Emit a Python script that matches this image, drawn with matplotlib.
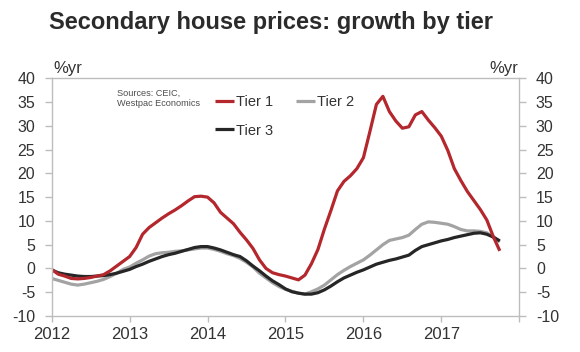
# -*- coding: utf-8 -*-

import numpy as np
import pandas as pd
import matplotlib
matplotlib.use("Agg")
import matplotlib.pyplot as plt

# =========================
# 数据 (月度, 2012-01 ~ 2017-10, %yr)
START = "2012-01"

tier1 = [
    # 2012
    -0.2, -1.2, -1.6, -2.1, -2.2, -2.1, -1.9, -1.6, -1.3, -0.5, 0.5, 1.5,
    # 2013
    2.5, 4.4, 7.2, 8.6, 9.6, 10.6, 11.5, 12.3, 13.2, 14.2, 15.1, 15.2,
    # 2014
    15.0, 13.8, 11.8, 10.6, 9.4, 7.6, 6.0, 4.2, 1.8, 0.0, -0.9, -1.3,
    # 2015
    -1.6, -2.0, -2.4, -1.4, 1.0, 4.0, 8.3, 12.2, 16.3, 18.3, 19.5, 21.0,
    # 2016
    23.3, 28.8, 34.5, 36.2, 33.0, 31.0, 29.5, 29.8, 32.3, 33.0, 31.2, 29.6,
    # 2017
    27.8, 24.8, 21.0, 18.5, 16.2, 14.3, 12.4, 10.2, 6.7, 3.7,
]

tier2 = [
    -2.1, -2.5, -2.9, -3.3, -3.5, -3.3, -3.0, -2.7, -2.3, -1.7, -1.0, -0.2,
    0.3, 1.1, 1.8, 2.6, 3.1, 3.3, 3.4, 3.6, 3.7, 3.9, 4.1, 4.3,
    4.3, 4.0, 3.6, 3.1, 2.7, 2.1, 1.3, 0.3, -1.0, -2.0, -3.0, -3.8,
    -4.4, -4.8, -5.2, -5.4, -4.9, -4.3, -3.5, -2.4, -1.3, -0.4, 0.4, 1.1,
    1.8, 2.8, 3.9, 5.0, 5.9, 6.2, 6.5, 7.0, 8.2, 9.3, 9.8, 9.7,
    9.5, 9.3, 8.8, 8.2, 7.9, 7.9, 7.8, 7.5, 6.6, 5.6,
]

tier3 = [
    -0.3, -0.9, -1.2, -1.4, -1.6, -1.7, -1.7, -1.6, -1.5, -1.3, -1.0, -0.6,
    -0.2, 0.4, 0.9, 1.5, 2.0, 2.5, 2.9, 3.2, 3.6, 4.0, 4.4, 4.6,
    4.6, 4.3, 3.9, 3.4, 2.9, 2.5, 1.6, 0.5, -0.5, -1.6, -2.6, -3.4,
    -4.3, -4.9, -5.2, -5.4, -5.4, -5.1, -4.5, -3.7, -2.8, -2.0, -1.4, -0.8,
    -0.3, 0.3, 0.9, 1.3, 1.7, 2.0, 2.4, 2.8, 3.8, 4.6, 5.0, 5.4,
    5.8, 6.1, 6.5, 6.8, 7.1, 7.4, 7.5, 7.2, 6.6, 5.8,
]

year_ticks = [2012, 2013, 2014, 2015, 2016, 2017, 2018]
year_labels = ["2012", "2013", "2014", "2015", "2016", "2017", ""]
y_ticks = [-10, -5, 0, 5, 10, 15, 20, 25, 30, 35, 40]

TITLE = "Secondary house prices: growth by tier"
SOURCE = "Sources: CEIC,\nWestpac Economics"

# =========================
# 样式
RED = "#b3272d"
GREY = "#a3a3a3"
BLACK = "#262626"
AXIS = "#bdbdbd"
TXT = "#333333"

plt.rcParams["font.family"] = ["Liberation Sans", "DejaVu Sans"]
plt.rcParams["axes.unicode_minus"] = False


def decimal_years(n):
    dates = pd.date_range(START, periods=n, freq="MS")
    return dates.year + (dates.month - 1) / 12.0


def main():
    fig = plt.figure(figsize=(5.8, 3.52), dpi=100)
    ax = fig.add_axes([0.0891, 0.1023, 0.8062, 0.6753])

    x = decimal_years(len(tier1))
    l2, = ax.plot(x, tier2, color=GREY, lw=2.3, label="Tier 2", solid_capstyle="butt")
    l3, = ax.plot(x, tier3, color=BLACK, lw=2.3, label="Tier 3", solid_capstyle="butt")
    l1, = ax.plot(x, tier1, color=RED, lw=2.3, label="Tier 1", solid_capstyle="butt")

    ax.set_xlim(2012, 2018)
    ax.set_ylim(-10, 40)
    ax.set_xticks(year_ticks)
    ax.set_xticklabels(year_labels)
    ax.set_yticks(y_ticks)

    for s in ax.spines.values():
        s.set_color(AXIS)
        s.set_linewidth(1.0)

    ax.tick_params(axis="y", which="both", direction="out", length=5, width=1,
                   color=AXIS, labelsize=11.5, labelcolor=TXT, pad=7,
                   left=True, right=True, labelleft=True, labelright=True)
    # 右侧刻度标签稍近
    for t in ax.yaxis.get_major_ticks():
        t.set_pad(7)
        t.label2.set_x(1.0)
    ax.tick_params(axis="x", direction="out", length=4, width=1,
                   color=AXIS, labelsize=12, labelcolor=TXT, pad=4)

    # 单位
    fig.text(53 / 580, 1 - 68 / 352, "%yr", fontsize=12, color=TXT,
             ha="left", va="center")
    fig.text(518 / 580, 1 - 68 / 352, "%yr", fontsize=12, color=TXT,
             ha="right", va="center")

    # 标题
    fig.text(49 / 580, 1 - 23 / 352, TITLE, fontsize=17, fontweight="bold",
             color="#2b2b2b", ha="left", va="center")

    # 来源
    fig.text(117 / 580, 1 - 89 / 352, SOURCE, fontsize=6.6, color="#4d4d4d",
             ha="left", va="top", linespacing=1.2)

    # 图例
    fig.legend(handles=[l1, l3, l2], ncol=2, frameon=False,
               loc="upper left", bbox_to_anchor=(215 / 580, 1 - 95 / 352),
               fontsize=10.5, handlelength=1.3, handletextpad=0.12,
               columnspacing=1.6, labelspacing=1.0, borderpad=0,
               borderaxespad=0, labelcolor=TXT)

    fig.savefig("out.png", dpi=100)
    plt.close(fig)


if __name__ == "__main__":
    main()
